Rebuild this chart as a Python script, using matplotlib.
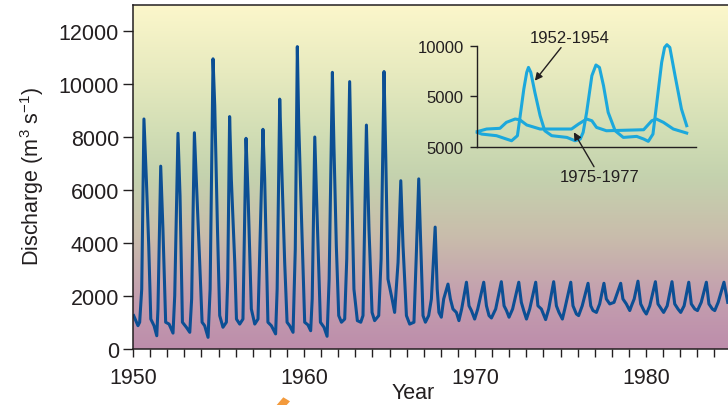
import numpy as np
import matplotlib
matplotlib.use("Agg")
import matplotlib.pyplot as plt
from matplotlib.colors import LinearSegmentedColormap
from matplotlib.ticker import FixedLocator, MultipleLocator
from matplotlib.patches import Polygon

plt.rcParams['font.family'] = ['Liberation Sans', 'DejaVu Sans']
plt.rcParams['mathtext.fontset'] = 'custom'
plt.rcParams['mathtext.rm'] = 'Liberation Sans'
plt.rcParams['mathtext.it'] = 'Liberation Sans:italic'

INK = '#231f20'
LINE_BLUE = '#0c4f94'
INSET_BLUE = '#1ca8dc'

# River discharge record: hydrograph vertices (decimal year, m3/s)
flow_year = [
    1950.04, 1950.29, 1950.39, 1950.51, 1950.64, 1950.78, 1950.92, 1951.04, 1951.23, 1951.39,
    1951.46, 1951.62, 1951.75, 1951.91, 1952.11, 1952.34,
    1952.44, 1952.63, 1952.75, 1952.89, 1953.12, 1953.32,
    1953.43, 1953.59, 1953.71, 1953.90, 1954.04, 1954.19, 1954.39,
    1954.51, 1954.68, 1954.78, 1954.94, 1955.07, 1955.26, 1955.46,
    1955.54, 1955.65, 1955.75, 1955.95, 1956.05, 1956.24, 1956.43,
    1956.61, 1956.73, 1956.92, 1957.12, 1957.31,
    1957.60, 1957.70, 1957.89, 1958.09, 1958.34,
    1958.43, 1958.58, 1958.70, 1958.87, 1959.01, 1959.16, 1959.36,
    1959.49, 1959.61, 1959.69, 1959.85, 1960.04, 1960.23, 1960.39,
    1960.48, 1960.63, 1960.76, 1960.96, 1961.17, 1961.35,
    1961.47, 1961.66, 1961.75, 1961.89, 1962.03, 1962.19, 1962.38,
    1962.50, 1962.67, 1962.77, 1962.92, 1963.12, 1963.32, 1963.45,
    1963.65, 1963.80, 1963.98, 1964.13, 1964.37,
    1964.51, 1964.68, 1964.78, 1964.91, 1965.15, 1965.30,
    1965.50, 1965.66, 1965.79, 1965.99, 1966.18, 1966.43,
    1966.56, 1966.71, 1966.81, 1966.96, 1967.10, 1967.29, 1967.45,
    1967.67, 1967.79, 1967.89, 1968.03,
    1968.17, 1968.42, 1968.56, 1968.71, 1968.91, 1969.06,
    1969.22, 1969.50, 1969.65, 1969.79, 1969.98,
    1970.16, 1970.51, 1970.67, 1970.82, 1970.96,
    1971.21, 1971.54, 1971.70, 1971.84, 1971.99,
    1972.20, 1972.56, 1972.71, 1972.85, 1973.01,
    1973.20, 1973.55, 1973.68, 1973.88, 1974.13,
    1974.31, 1974.60, 1974.76, 1974.91, 1975.11,
    1975.25, 1975.60, 1975.73, 1975.93, 1976.06,
    1976.27, 1976.61, 1976.77, 1976.90, 1977.10,
    1977.29, 1977.54, 1977.68, 1977.88, 1978.13,
    1978.52, 1978.65, 1978.85, 1979.05, 1979.15,
    1979.31, 1979.53, 1979.69, 1979.88, 1980.02,
    1980.22, 1980.55, 1980.70, 1980.90, 1981.03,
    1981.24, 1981.52, 1981.68, 1981.87, 1982.03,
    1982.23, 1982.50, 1982.65, 1982.85, 1983.01,
    1983.23, 1983.53, 1983.68, 1983.88, 1984.02,
    1984.22, 1984.56, 1984.78,
]
flow_q = [
    1260, 880, 1010, 2260, 8680, 6420, 3900, 1130, 880, 500,
    1510, 6900, 4530, 1010, 940, 600,
    2010, 8140, 5790, 1010, 820, 630,
    1890, 8160, 6290, 3270, 1010, 880, 440,
    2260, 10950, 9180, 4530, 1260, 820, 1010,
    2640, 8770, 6420, 3270, 1130, 940, 1130,
    7950, 5790, 1510, 940, 1130,
    8290, 6420, 1010, 880, 570,
    2260, 9430, 6790, 3270, 1010, 880, 630,
    3770, 11410, 8560, 5030, 1010, 910, 690,
    1890, 8000, 5160, 1010, 820, 480,
    2640, 10440, 7670, 3900, 1260, 1010, 1130,
    3400, 10090, 6670, 2260, 1070, 1010, 1260,
    8450, 4530, 1380, 1070, 1260,
    3400, 10470, 7300, 2640, 1890, 1380,
    3270, 6350, 3900, 1260, 940, 1010,
    3400, 6420, 4280, 1260, 1010, 1260, 1890,
    4600, 2260, 1380, 1200,
    1890, 2450, 1890, 1510, 1380, 1070,
    1510, 2520, 1630, 1450, 1130,
    1510, 2520, 1630, 1260, 1170,
    1510, 2540, 1630, 1450, 1200,
    1510, 2520, 1760, 1450, 1130,
    1510, 2520, 1630, 1510, 1110,
    1510, 2540, 1630, 1380, 1130,
    1510, 2520, 1630, 1320, 1260,
    1630, 2480, 1630, 1450, 1380,
    1700, 2480, 1890, 1700, 1760,
    2480, 1890, 1700, 1450, 1630,
    1890, 2560, 1700, 1450, 1320,
    1630, 2540, 1700, 1510, 1380,
    1630, 2540, 1700, 1510, 1380,
    1630, 2520, 1700, 1510, 1450,
    1760, 2520, 1700, 1510, 1450,
    1760, 2520, 1760,
]

# Inset: three-year hydrographs, months from the start of each period
month_1952 = [0.0, 0.75, 3.3, 5.0, 5.9, 6.9, 7.3, 8.0, 8.5, 8.8,
              9.2, 9.9, 10.8, 11.6, 12.8, 15.4, 16.8, 17.7, 18.2, 18.8,
              19.7, 20.4, 21.0, 21.7, 22.5, 23.7, 25.1, 27.4, 28.6, 29.4,
              30.2, 30.8, 31.7, 32.2, 32.6, 33.1, 34.0, 35.1, 36.0]
q_1952 = [1420, 1250, 1090, 760, 590, 1090, 2740, 5710, 7360, 7850,
          7360, 5380, 3070, 1580, 1090, 920, 590, 760, 1420, 3400,
          7030, 8090, 7850, 6040, 3400, 1580, 920, 1020, 760, 530,
          1250, 4060, 8350, 9830, 10100, 9830, 7030, 3730, 2080]
month_1975 = [0.0, 1.6, 3.9, 5.0, 6.5, 7.3, 8.5, 10.8, 16.2, 17.4,
              18.8, 19.7, 20.5, 22.2, 28.6, 30.0, 30.8, 32.0, 33.7, 36.0]
q_1975 = [1490, 1750, 1820, 2410, 2740, 2670, 2150, 1750, 1750, 2240,
          2740, 2570, 1910, 1580, 1680, 2570, 2740, 2410, 1750, 1350]

year_ticks = [1950, 1960, 1970, 1980]
q_ticks = [0, 2000, 4000, 6000, 8000, 10000, 12000]
inset_ticks = [0, 5000, 10000]
inset_tick_labels = ['5000', '5000', '10000']

label_1952 = dict(text='1952-1954', xy=(9.9, 6535), xytext=(15.8, 10830))
label_1975 = dict(text='1975-1977', xy=(16.6, 1430), xytext=(21.1, -3000))

# ---------------------------------------------------------------- layout
W, H = 728, 406
fig = plt.figure(figsize=(W / 100, H / 100), dpi=100)
fig.patch.set_facecolor('white')


def frame(left, right, top, bottom):
    return [left / W, 1 - bottom / H, (right - left) / W, (bottom - top) / H]


main_rect = frame(133, 728, 5.5, 350)

# Backdrop: vertical colour wash behind the plot area
wash = LinearSegmentedColormap.from_list('wash', [
    (0.00, '#bd8dab'),
    (0.16, '#c4a0af'),
    (0.33, '#c9bdab'),
    (0.50, '#c4d2ae'),
    (0.63, '#d2deb5'),
    (0.80, '#e7eabf'),
    (1.00, '#fcf7cb'),
])
bg = fig.add_axes(main_rect, zorder=0)
bg.imshow(np.linspace(0, 1, 256).reshape(-1, 1), cmap=wash, aspect='auto',
          origin='lower', extent=[0, 1, 0, 1], interpolation='bilinear')
bg.set_axis_off()

ax = fig.add_axes(main_rect, zorder=1)
ax.set_facecolor('none')
ax.plot(flow_year, flow_q, color=LINE_BLUE, lw=2.2, solid_joinstyle='round')
ax.set_xlim(1950, 1950 + (728 - 133) / 17.1)
ax.set_ylim(0, 13000)

for side in ('left', 'bottom', 'top'):
    ax.spines[side].set_color(INK)
    ax.spines[side].set_linewidth(1.1)
ax.spines['right'].set_visible(False)

ax.xaxis.set_major_locator(FixedLocator(year_ticks))
ax.xaxis.set_minor_locator(MultipleLocator(1))
ax.set_yticks(q_ticks)
ax.tick_params(axis='x', which='both', direction='out', length=6, width=1,
               color=INK, top=False, labelsize=15.5, labelcolor=INK, pad=7)
ax.tick_params(axis='y', which='major', direction='out', length=7, width=1,
               color=INK, right=False, labelsize=15.5, labelcolor=INK, pad=3)

fig.text(32 / W, 1 - 176 / H, 'Discharge (m$^3$ s$^{-1}$)', rotation=90,
         ha='center', va='center', fontsize=15.5, color=INK)
fig.text(413 / W, 1 - 394 / H, 'Year', ha='center', va='center',
         fontsize=15.5, color=INK)

# ---------------------------------------------------------------- inset
ax_in = fig.add_axes(frame(476.7, 696, 46.7, 147.7), zorder=2)
ax_in.set_facecolor('none')
ax_in.plot(month_1952, q_1952, color=INSET_BLUE, lw=2.2,
           solid_joinstyle='round', clip_on=False)
ax_in.plot(month_1975, q_1975, color=INSET_BLUE, lw=2.2,
           solid_joinstyle='round', clip_on=False)
ax_in.set_xlim(-0.1, 37.6)
ax_in.set_ylim(0, 10000)
ax_in.spines['top'].set_visible(False)
ax_in.spines['right'].set_visible(False)
for side in ('left', 'bottom'):
    ax_in.spines[side].set_color(INK)
    ax_in.spines[side].set_linewidth(1.0)
ax_in.set_xticks([])
ax_in.set_yticks(inset_ticks, inset_tick_labels)
ax_in.tick_params(axis='y', direction='out', length=5, width=1, color=INK,
                  labelsize=12, labelcolor=INK, pad=4.5)

for lab in (label_1952, label_1975):
    ax_in.annotate(lab['text'], xy=lab['xy'], xytext=lab['xytext'],
                   textcoords='data', ha='center', va='center', fontsize=12,
                   color=INK, annotation_clip=False,
                   arrowprops=dict(arrowstyle='-|>', color=INK, lw=1.0,
                                   mutation_scale=11, shrinkA=0, shrinkB=0))

# small orange marker peeking in at the bottom edge
fig.patches.append(Polygon(
    [(276.7 / W, 0.0), (283.3 / W, 1 - 398.3 / H), (290 / W, 1 - 402.3 / H),
     (286.7 / W, 0.0)],
    closed=True, transform=fig.transFigure, facecolor='#f39a3c',
    edgecolor='none'))

fig.savefig('out.png', dpi=100)
